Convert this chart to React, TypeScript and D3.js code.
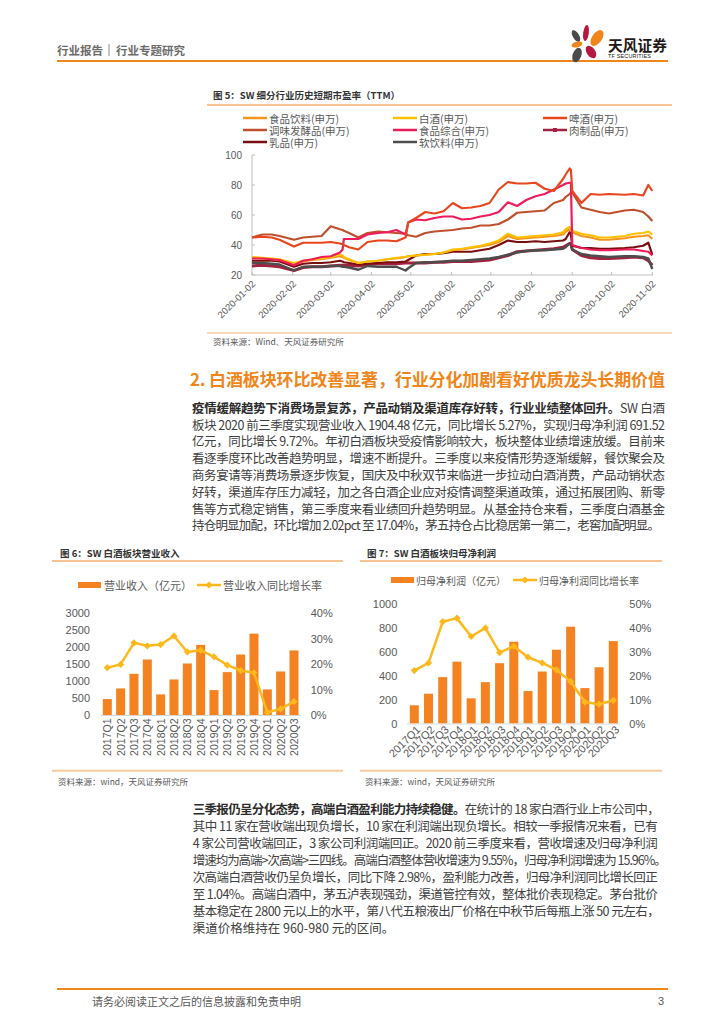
import React from "react";
import * as d3 from "d3";

// ---------- Figure 5 data: SW sub-industry PE (TTM) ----------
const PE_DATES = [
  "2020-01-02","2020-01-10","2020-01-17","2020-01-23","2020-02-03","2020-02-10","2020-02-17","2020-02-24",
  "2020-03-02","2020-03-09","2020-03-11","2020-03-12","2020-03-16","2020-03-23","2020-03-30",
  "2020-04-07","2020-04-14","2020-04-21","2020-04-28","2020-04-30",
  "2020-05-06","2020-05-13","2020-05-20","2020-05-27",
  "2020-06-03","2020-06-10","2020-06-17","2020-06-24",
  "2020-07-01","2020-07-08","2020-07-15","2020-07-22","2020-07-29",
  "2020-08-05","2020-08-12","2020-08-19","2020-08-26","2020-08-28","2020-08-31",
  "2020-09-01","2020-09-02","2020-09-09","2020-09-16","2020-09-23","2020-09-30",
  "2020-10-12","2020-10-19","2020-10-26","2020-10-30","2020-11-02",
];
const PE_FOOD_BEV = [31.5,31,30.5,30,27.5,29,30,30.5,31.5,32.5,32,31.5,30,28,29,29.5,30.5,31,32,32.5,33,33.5,34,35,36.5,37,38,39,40,42,46,44,44.5,45,45.5,46,47,49,50.5,50,48.5,46,45,43.5,43.5,44.5,45.5,46,46.5,44];
const PE_BAIJIU = [32,31.5,31,30.5,28,29.5,30.5,31,32,33.5,33,32,30.5,28,29,29.5,30.5,31.5,32,32.5,33,33.5,34,35,37,37.5,38.5,39.5,41,43,47.5,45,45.5,46,46.5,47,48.5,50.5,52,51.5,49.5,47.5,46.5,45,45,46,47.5,48,49,47];
const PE_BEER = [45,45.5,45,43.5,39,41.5,41.5,41.5,42,41,40.5,40,38.5,37,42,43,43,42.5,45,55,58,62,61,62.5,68,64.5,65,66,68,77,82,81,81,81.5,77.5,76,84,87,91,90,76,68,74,73.5,74,73.5,74,73,80,76];
const PE_SEASONING = [45,47,47,46,43.5,45,45.5,46,52.5,50.5,50,49.5,48,45,48,49,48.5,48,47.5,46.5,45.5,48,49,49.5,50,51,51.5,53,53,54,57,61.5,62,62.5,63,68,70,72,74,75,75,65,63.5,62,61,63,63.5,62,59,56];
const PE_FOOD_GENERAL = [31,31,30.5,30,26.5,29.5,30.5,32,32.5,35,37,44,44,44,47,48,48.5,50,47,55,57,56.5,58,59,59,57,57.5,59,60,62,68.5,66,70,72.5,74,77,80,81,81.5,81.5,40,38,37,36.5,36.5,37,37,36,35.5,33];
const PE_MEAT = [26,26.5,26,25.5,23,25,25.5,25.5,26,26.5,26.5,26.5,26.5,26,27,27.5,27.5,27.5,28,28,28,28,28.5,28.5,29,29,29,29.5,30,31.5,33,35.5,36,36.5,37,37.5,38.5,39.5,41,41,37,33,31.5,31,31,31.5,32,31.5,29.5,26.5];
const PE_DAIRY = [29.5,29.5,29.5,29,25.5,27.5,28,28,28.5,29.5,29,28.5,28,27,27.5,28,28.5,28.5,29,30,33,34,34,34.5,35.5,35.5,35.5,36.5,37.5,40,43,42,42,42.5,42,42.5,43,44,48.5,47,39.5,38,38,37.5,37.5,38,38.5,39.5,41.5,33.5];
const PE_SOFT_DRINK = [28,28,27.5,27,23,25.5,25.5,25.5,26,26,25.5,25.5,25,23.5,26,25.5,25.5,25.5,23,24.5,28,28.5,28.5,29,29.5,29.5,30,30.5,31,32,33.5,35,36,36.5,36.5,37,37.5,38.5,41,40.5,37,34,33,32.5,32,32.5,32.5,32,31,24];
const PE_SERIES_NAMES = ["食品饮料(申万)","白酒(申万)","啤酒(申万)","调味发酵品(申万)","食品综合(申万)","肉制品(申万)","乳品(申万)","软饮料(申万)"];
const PE_Y_TICKS = [20, 40, 60, 80, 100];
const PE_X_TICKS = ["2020-01-02","2020-02-02","2020-03-02","2020-04-02","2020-05-02","2020-06-02","2020-07-02","2020-08-02","2020-09-02","2020-10-02","2020-11-02"];

// ---------- Figure 6 / 7 data ----------
const QUARTERS = ["2017Q1","2017Q2","2017Q3","2017Q4","2018Q1","2018Q2","2018Q3","2018Q4","2019Q1","2019Q2","2019Q3","2019Q4","2020Q1","2020Q2","2020Q3"];
const REVENUE = [470, 784, 1215, 1637, 608, 1049, 1520, 2069, 735, 1265, 1784, 2400, 755, 1284, 1904];
const REVENUE_YOY = [18.6, 19.9, 28.4, 27.2, 27.7, 31.1, 24.8, 25.5, 22.9, 19.6, 17.5, 16.6, 1.0, 2.4, 5.27];
const REV_LEFT_TICKS = [0, 500, 1000, 1500, 2000, 2500, 3000];
const REV_RIGHT_TICKS = [0, 10, 20, 30, 40];
const PROFIT = [153, 250, 389, 519, 211, 347, 506, 686, 272, 436, 619, 812, 297, 472, 691];
const PROFIT_YOY = [22.2, 25.4, 42.7, 44.2, 36.5, 40.1, 29.7, 32.4, 27.8, 25.4, 22.5, 17.6, 9.0, 8.1, 9.72];
const PROFIT_LEFT_TICKS = [0, 200, 400, 600, 800, 1000];
const PROFIT_RIGHT_TICKS = [0, 10, 20, 30, 40, 50];

// ---------- Text ----------
const P1_BOLD = "疫情缓解趋势下消费场景复苏，产品动销及渠道库存好转，行业业绩整体回升。";
const P1_LINES = [
  "SW 白酒",
  "板块 2020 前三季度实现营业收入 1904.48 亿元，同比增长 5.27%，实现归母净利润 691.52",
  "亿元，同比增长 9.72%。年初白酒板块受疫情影响较大，板块整体业绩增速放缓。目前来",
  "看逐季度环比改善趋势明显，增速不断提升。三季度以来疫情形势逐渐缓解，餐饮聚会及",
  "商务宴请等消费场景逐步恢复，国庆及中秋双节来临进一步拉动白酒消费，产品动销状态",
  "好转，渠道库存压力减轻，加之各白酒企业应对疫情调整渠道政策，通过拓展团购、新零",
  "售等方式稳定销售，第三季度来看业绩回升趋势明显。从基金持仓来看，三季度白酒基金",
  "持仓明显加配，环比增加 2.02pct 至 17.04%，茅五持仓占比稳居第一第二，老窖加配明显。",
];
const P2_BOLD = "三季报仍呈分化态势，高端白酒盈利能力持续稳健。";
const P2_LINES = [
  "在统计的 18 家白酒行业上市公司中，",
  "其中 11 家在营收端出现负增长，10 家在利润端出现负增长。相较一季报情况来看，已有",
  "4 家公司营收端回正，3 家公司利润端回正。2020 前三季度来看，营收增速及归母净利润",
  "增速均为高端>次高端>三四线。高端白酒整体营收增速为 9.55%，归母净利润增速为 15.96%。",
  "次高端白酒营收仍呈负增长，同比下降 2.98%，盈利能力改善，归母净利润同比增长回正",
  "至 1.04%。高端白酒中，茅五泸表现强劲，渠道管控有效，整体批价表现稳定。茅台批价",
  "基本稳定在 2800 元以上的水平，第八代五粮液出厂价格在中秋节后每瓶上涨 50 元左右，",
  "渠道价格维持在 960-980 元的区间。",
];
const P1_WIDTHS = [473, 473, 473, 473, 473, 473, 473, 468];
const P2_WIDTHS = [467, 465, 465, 474, 465, 465, 467, 0];

const CJK = "'Noto Sans CJK SC', 'Noto Sans', sans-serif";
const SANS = "'Liberation Sans', Arial, 'Noto Sans CJK SC', sans-serif";
const AXIS_TEXT = "#595959";
const ORANGE = "#F08519";
const BAR = "#F58220";
const GOLD = "#FFB81C";

const parse = d3.timeParse("%Y-%m-%d");

function PEChart() {
  const dates = PE_DATES.map((d) => parse(d) as Date);
  const x = d3
    .scaleTime()
    .domain([parse(PE_X_TICKS[0]) as Date, parse(PE_X_TICKS[PE_X_TICKS.length - 1]) as Date])
    .range([252, 652.3]);
  const y = d3.scaleLinear().domain([20, 100]).range([275, 155]);
  const line = d3
    .line<number>()
    .x((_, i) => x(dates[i]))
    .y((v) => y(v));
  const series = [
    { name: PE_SERIES_NAMES[0], values: PE_FOOD_BEV, color: "#F7941D", w: 2.2 },
    { name: PE_SERIES_NAMES[1], values: PE_BAIJIU, color: "#FFC000", w: 2.2 },
    { name: PE_SERIES_NAMES[2], values: PE_BEER, color: "#E8461E", w: 2.2 },
    { name: PE_SERIES_NAMES[3], values: PE_SEASONING, color: "#C0502D", w: 2.2 },
    { name: PE_SERIES_NAMES[4], values: PE_FOOD_GENERAL, color: "#EE1C5A", w: 2.2 },
    { name: PE_SERIES_NAMES[5], values: PE_MEAT, color: "#A3223F", w: 3, marker: true },
    { name: PE_SERIES_NAMES[6], values: PE_DAIRY, color: "#7A0E0E", w: 2.2 },
    { name: PE_SERIES_NAMES[7], values: PE_SOFT_DRINK, color: "#4D4D4D", w: 2.4 },
  ];
  const legCols = [243, 393, 543];
  const legRows = [118, 130, 142];
  const drawOrder = [5, 7, 6, 0, 1, 3, 4, 2];
  return (
    <g>
      <text x={213} y={95} fontFamily={CJK} fontSize={9.5} fontWeight={700} fill="#333" dominantBaseline="central">
        图 5：SW 细分行业历史短期市盈率（TTM）
      </text>
      <line x1={207} x2={672} y1={105} y2={105} stroke="#F6AE6E" strokeWidth={1.5} />
      {series.map((s, i) => {
        const cx = legCols[i % 3];
        const cy = legRows[Math.floor(i / 3)];
        return (
          <g key={s.name}>
            <line x1={cx} x2={cx + 24} y1={cy} y2={cy} stroke={s.color} strokeWidth={2.5} />
            {s.marker && <rect x={cx + 10} y={cy - 2} width={4} height={4} fill={s.color} />}
            <text x={cx + 26} y={cy} fontFamily={CJK} fontSize={10.5} fill={AXIS_TEXT} dominantBaseline="central">
              {s.name}
            </text>
          </g>
        );
      })}
      <line x1={252} x2={252} y1={155} y2={275} stroke="#BFBFBF" />
      <line x1={252} x2={653} y1={275} y2={275} stroke="#BFBFBF" />
      {PE_Y_TICKS.map((t) => (
        <g key={t}>
          <line x1={252} x2={255} y1={y(t)} y2={y(t)} stroke="#BFBFBF" />
          <text x={242} y={y(t)} fontFamily={SANS} fontSize={10} fill={AXIS_TEXT} textAnchor="end" dominantBaseline="central">
            {t}
          </text>
        </g>
      ))}
      {PE_X_TICKS.map((t) => {
        const px = x(parse(t) as Date);
        return (
          <g key={t}>
            <line x1={px} x2={px} y1={275} y2={272} stroke="#BFBFBF" />
            <text
              transform={`translate(${px + 1.5},282) rotate(-45)`}
              fontFamily={SANS}
              fontSize={9.5}
              fill={AXIS_TEXT}
              textAnchor="end"
              dominantBaseline="central"
            >
              {t}
            </text>
          </g>
        );
      })}
      {drawOrder.map((i) => {
        const s = series[i];
        return (
          <path key={s.name} d={line(s.values) || ""} fill="none" stroke={s.color} strokeWidth={s.w} strokeLinejoin="round" />
        );
      })}
      <line x1={207} x2={672} y1={333} y2={333} stroke="#F9C9A0" strokeWidth={1.5} />
      <text x={213} y={341} fontFamily={CJK} fontSize={8.5} fill={AXIS_TEXT} dominantBaseline="central">
        资料来源：Wind、天风证券研究所
      </text>
    </g>
  );
}

function diamond(cx: number, cy: number, key: string | number, color: string) {
  const p = d3.symbol().type(d3.symbolSquare).size(26)();
  return <path key={key} d={p || ""} transform={`translate(${cx},${cy}) rotate(45)`} fill={color} />;
}

type ComboProps = {
  title: string;
  titleX: number;
  lineX: [number, number];
  barLabel: string;
  lineLabel: string;
  legend: { y: number; bx: number; lx: number; tx1: number; tx2: number; fs: number };
  bars: number[];
  rates: number[];
  leftTicks: number[];
  rightTicks: number[];
  yRange: [number, number];
  xRange: [number, number];
  axisX: [number, number];
  leftLabelX: number;
  rightLabelX: number;
  rotate90: boolean;
};

function ComboChart(p: ComboProps) {
  const x = d3.scalePoint<string>().domain(QUARTERS).range(p.xRange);
  const yL = d3
    .scaleLinear()
    .domain([0, p.leftTicks[p.leftTicks.length - 1]])
    .range(p.yRange);
  const yR = d3
    .scaleLinear()
    .domain([0, p.rightTicks[p.rightTicks.length - 1]])
    .range(p.yRange);
  const line = d3
    .line<number>()
    .x((_, i) => x(QUARTERS[i]) as number)
    .y((v) => yR(v));
  const bw = 9;
  const base = p.yRange[0];
  return (
    <g>
      <text x={p.titleX} y={552.7} fontFamily={CJK} fontSize={9.5} fontWeight={700} fill="#333" dominantBaseline="central">
        {p.title}
      </text>
      <line x1={p.lineX[0]} x2={p.lineX[1]} y1={561} y2={561} stroke="#F6AE6E" strokeWidth={1.5} />
      {/* legend */}
      <rect x={p.legend.bx} y={p.legend.y - 3} width={23} height={6} fill={BAR} />
      <text x={p.legend.tx1} y={p.legend.y} fontFamily={CJK} fontSize={p.legend.fs} fill={AXIS_TEXT} dominantBaseline="central">
        {p.barLabel}
      </text>
      <line x1={p.legend.lx} x2={p.legend.lx + 24} y1={p.legend.y} y2={p.legend.y} stroke={GOLD} strokeWidth={2.5} />
      {diamond(p.legend.lx + 12, p.legend.y, "legd", GOLD)}
      <text x={p.legend.tx2} y={p.legend.y} fontFamily={CJK} fontSize={p.legend.fs} fill={AXIS_TEXT} dominantBaseline="central">
        {p.lineLabel}
      </text>
      {/* axes labels */}
      {p.leftTicks.map((t) => (
        <text key={"l" + t} x={p.leftLabelX} y={yL(t)} fontFamily={SANS} fontSize={11} fill={AXIS_TEXT} textAnchor="end" dominantBaseline="central">
          {t}
        </text>
      ))}
      {p.rightTicks.map((t) => (
        <text key={"r" + t} x={p.rightLabelX} y={yR(t)} fontFamily={SANS} fontSize={11} fill={AXIS_TEXT} dominantBaseline="central">
          {t + "%"}
        </text>
      ))}
      {/* bars */}
      {p.bars.map((v, i) => (
        <rect key={"b" + i} x={(x(QUARTERS[i]) as number) - bw / 2} y={yL(v)} width={bw} height={base - yL(v)} fill={BAR} />
      ))}
      <line x1={p.axisX[0]} x2={p.axisX[1]} y1={base + 0.5} y2={base + 0.5} stroke="#D9D9D9" />
      {/* line */}
      <path d={line(p.rates) || ""} fill="none" stroke={GOLD} strokeWidth={2.5} strokeLinejoin="round" />
      {p.rates.map((v, i) => diamond(x(QUARTERS[i]) as number, yR(v), "d" + i, GOLD))}
      {/* x labels */}
      {QUARTERS.map((q) => {
        const cx = x(q) as number;
        return p.rotate90 ? (
          <text
            key={q}
            transform={`translate(${cx},${base + 3.5}) rotate(-90)`}
            fontFamily={SANS}
            fontSize={10.5}
            fill={AXIS_TEXT}
            textAnchor="end"
            dominantBaseline="central"
          >
            {q}
          </text>
        ) : (
          <text
            key={q}
            transform={`translate(${cx + 4},${base + 4}) rotate(-45)`}
            fontFamily={SANS}
            fontSize={11}
            fill={AXIS_TEXT}
            textAnchor="end"
            dominantBaseline="central"
          >
            {q}
          </text>
        );
      })}
      <line x1={p.lineX[0]} x2={p.lineX[1]} y1={770.7} y2={770.7} stroke="#F9C9A0" strokeWidth={2} />
      <text x={p.titleX - 2} y={781} fontFamily={CJK} fontSize={8.5} fill={AXIS_TEXT} dominantBaseline="central">
        资料来源：wind，天风证券研究所
      </text>
    </g>
  );
}

function Paragraph({ bold, lines, widths, x0, y0, pitch }: { bold: string; lines: string[]; widths: number[]; x0: number; y0: number; pitch: number }) {
  return (
    <g fontFamily={CJK} fontSize={12.5} fill="#404040">
      {lines.map((l, i) => (
        <text
          key={i}
          x={x0}
          y={y0 + i * pitch}
          dominantBaseline="central"
          textLength={widths[i] || undefined}
          lengthAdjust="spacing"
        >
          {i === 0 && (
            <tspan fontWeight={700} fill="#2b2b2b">
              {bold}
            </tspan>
          )}
          <tspan>{l}</tspan>
        </text>
      ))}
    </g>
  );
}

function Logo() {
  const petals = [
    { cx: 586, cy: 33, rx: 2.8, ry: 8, r: 8, c: "#B5173D" },
    { cx: 576, cy: 36, rx: 3.2, ry: 6.5, r: -30, c: "#4A4A4A" },
    { cx: 597, cy: 38, rx: 5, ry: 9, r: 35, c: "#F08519" },
    { cx: 577, cy: 44.5, rx: 5.5, ry: 2.8, r: -15, c: "#F08519" },
    { cx: 591, cy: 52, rx: 4.2, ry: 7, r: -35, c: "#B5173D" },
    { cx: 577, cy: 55, rx: 4.3, ry: 7.5, r: 20, c: "#4A4A4A" },
  ];
  return (
    <g>
      {petals.map((p, i) => (
        <ellipse key={i} cx={0} cy={0} rx={p.rx} ry={p.ry} fill={p.c} transform={`translate(${p.cx},${p.cy}) rotate(${p.r})`} />
      ))}
      <text x={608} y={44.5} fontFamily={CJK} fontSize={14.5} fontWeight={700} fill="#231815" dominantBaseline="central" textLength={59} lengthAdjust="spacingAndGlyphs">
        天风证券
      </text>
      <text x={608} y={56} fontFamily={SANS} fontSize={5.5} fill="#231815" dominantBaseline="central" textLength={43} lengthAdjust="spacing">
        TF SECURITIES
      </text>
    </g>
  );
}

export default function App() {
  return (
    <div style={{ position: "absolute", left: 0, top: 0, width: 724, height: 1024, background: "#fff" }}>
      <svg width={724} height={1024} viewBox="0 0 724 1024" style={{ display: "block" }}>
        <rect width={724} height={1024} fill="#fff" />
        {/* header */}
        <text x={57} y={50} fontFamily={CJK} fontSize={11.5} fontWeight={700} fill="#6b6b6b" dominantBaseline="central">
          行业报告
        </text>
        <line x1={109} x2={109} y1={44} y2={56} stroke="#8c8c8c" strokeWidth={1} />
        <text x={116} y={50} fontFamily={CJK} fontSize={11.5} fontWeight={700} fill="#6b6b6b" dominantBaseline="central">
          行业专题研究
        </text>
        <line x1={57} x2={668} y1={61} y2={61} stroke={ORANGE} strokeWidth={2} />
        <Logo />

        <PEChart />

        {/* section heading */}
        <text x={190} y={378} fontFamily={CJK} fontSize={17} fontWeight={700} fill={ORANGE} dominantBaseline="central" textLength={475} lengthAdjust="spacing">
          2. 白酒板块环比改善显著，行业分化加剧看好优质龙头长期价值
        </text>

        <Paragraph bold={P1_BOLD} lines={P1_LINES} widths={P1_WIDTHS} x0={192} y0={406.7} pitch={16.8} />

        <ComboChart
          title="图 6：SW 白酒板块营业收入"
          titleX={60}
          lineX={[52, 343]}
          barLabel="营业收入（亿元）"
          lineLabel="营业收入同比增长率"
          legend={{ y: 585, bx: 78, lx: 197, tx1: 104, tx2: 223, fs: 11 }}
          bars={REVENUE}
          rates={REVENUE_YOY}
          leftTicks={REV_LEFT_TICKS}
          rightTicks={REV_RIGHT_TICKS}
          yRange={[715, 613.3]}
          xRange={[107.3, 294]}
          axisX={[101, 301]}
          leftLabelX={90}
          rightLabelX={310.7}
          rotate90={true}
        />
        <ComboChart
          title="图 7：SW 白酒板块归母净利润"
          titleX={367}
          lineX={[360, 662]}
          barLabel="归母净利润（亿元）"
          lineLabel="归母净利润同比增长率"
          legend={{ y: 580, bx: 391, lx: 513, tx1: 416, tx2: 539, fs: 10 }}
          bars={PROFIT}
          rates={PROFIT_YOY}
          leftTicks={PROFIT_LEFT_TICKS}
          rightTicks={PROFIT_RIGHT_TICKS}
          yRange={[723.5, 604.3]}
          xRange={[414.3, 613.3]}
          axisX={[407, 620]}
          leftLabelX={397.3}
          rightLabelX={629.3}
          rotate90={false}
        />

        <Paragraph bold={P2_BOLD} lines={P2_LINES} widths={P2_WIDTHS} x0={192.7} y0={808.3} pitch={16.9} />

        {/* footer */}
        <line x1={57} x2={668} y1={989} y2={989} stroke={ORANGE} strokeWidth={2} />
        <text x={92} y={1000.7} fontFamily={CJK} fontSize={11} fill="#595959" dominantBaseline="central">
          请务必阅读正文之后的信息披露和免责申明
        </text>
        <text x={664} y={1000.7} fontFamily={SANS} fontSize={11} fill="#595959" textAnchor="end" dominantBaseline="central">
          3
        </text>
      </svg>
    </div>
  );
}
